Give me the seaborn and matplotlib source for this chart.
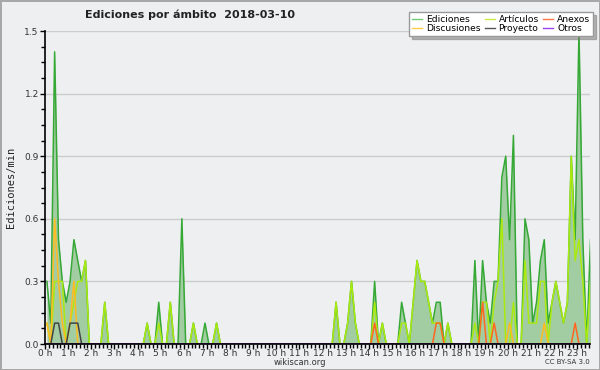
import numpy as np
import pandas as pd
import matplotlib
matplotlib.use("Agg")
import matplotlib.pyplot as plt
from matplotlib.lines import Line2D
from matplotlib.ticker import MultipleLocator, FormatStrFormatter
import seaborn as sns

# ediciones por minuto, un valor cada 10 minutos (00:05 ... 23:35)
ediciones = [
    0.3, 0.1, 1.4, 0.5, 0.3, 0.2, 0.3, 0.5, 0.4, 0.3, 0.4, 0.0,
    0.0, 0.0, 0.0, 0.2, 0.0, 0.0, 0.0, 0.0, 0.0, 0.0, 0.0, 0.0,
    0.0, 0.0, 0.1, 0.0, 0.0, 0.2, 0.0, 0.0, 0.2, 0.0, 0.0, 0.6,
    0.0, 0.0, 0.1, 0.0, 0.0, 0.1, 0.0, 0.0, 0.1, 0.0, 0.0, 0.0,
    0.0, 0.0, 0.0, 0.0, 0.0, 0.0, 0.0, 0.0, 0.0, 0.0, 0.0, 0.0,
    0.0, 0.0, 0.0, 0.0, 0.0, 0.0, 0.0, 0.0, 0.0, 0.0, 0.0, 0.0,
    0.0, 0.0, 0.0, 0.2, 0.0, 0.0, 0.1, 0.3, 0.1, 0.0, 0.0, 0.0,
    0.0, 0.3, 0.0, 0.1, 0.0, 0.0, 0.0, 0.0, 0.2, 0.1, 0.0, 0.2,
    0.4, 0.3, 0.3, 0.2, 0.1, 0.2, 0.2, 0.0, 0.1, 0.0, 0.0, 0.0,
    0.0, 0.0, 0.0, 0.4, 0.0, 0.4, 0.2, 0.1, 0.3, 0.3, 0.8, 0.9,
    0.5, 1.0, 0.0, 0.0, 0.6, 0.5, 0.1, 0.2, 0.4, 0.5, 0.1, 0.2,
    0.3, 0.2, 0.1, 0.2, 0.9, 0.5, 1.5, 0.5, 0.0, 0.5,
]
articulos = [
    0.1, 0.0, 0.3, 0.3, 0.3, 0.0, 0.1, 0.2, 0.3, 0.3, 0.4, 0.0,
    0.0, 0.0, 0.0, 0.2, 0.0, 0.0, 0.0, 0.0, 0.0, 0.0, 0.0, 0.0,
    0.0, 0.0, 0.1, 0.0, 0.0, 0.1, 0.0, 0.0, 0.2, 0.0, 0.0, 0.0,
    0.0, 0.0, 0.1, 0.0, 0.0, 0.0, 0.0, 0.0, 0.1, 0.0, 0.0, 0.0,
    0.0, 0.0, 0.0, 0.0, 0.0, 0.0, 0.0, 0.0, 0.0, 0.0, 0.0, 0.0,
    0.0, 0.0, 0.0, 0.0, 0.0, 0.0, 0.0, 0.0, 0.0, 0.0, 0.0, 0.0,
    0.0, 0.0, 0.0, 0.2, 0.0, 0.0, 0.1, 0.3, 0.1, 0.0, 0.0, 0.0,
    0.0, 0.2, 0.0, 0.1, 0.0, 0.0, 0.0, 0.0, 0.1, 0.1, 0.0, 0.2,
    0.4, 0.3, 0.3, 0.2, 0.1, 0.1, 0.1, 0.0, 0.1, 0.0, 0.0, 0.0,
    0.0, 0.0, 0.0, 0.1, 0.0, 0.2, 0.2, 0.0, 0.2, 0.3, 0.6, 0.0,
    0.0, 0.2, 0.0, 0.0, 0.4, 0.1, 0.1, 0.1, 0.3, 0.3, 0.0, 0.2,
    0.3, 0.2, 0.1, 0.2, 0.9, 0.4, 0.5, 0.3, 0.0, 0.3,
]
discusiones_pts = {0: 0.1, 2: 0.6, 3: 0.3, 4: 0.1, 6: 0.1, 7: 0.3, 120: 0.1, 129: 0.1}
anexos_pts = {85: 0.1, 101: 0.1, 102: 0.1, 113: 0.2, 116: 0.1, 137: 0.1}
proyecto_pts = {2: 0.1, 3: 0.1, 6: 0.1, 7: 0.1, 8: 0.1}

n = len(ediciones)
horas = (np.arange(n) + 0.5) / 6.0


def serie(pts):
    vals = np.zeros(n)
    for k, v in pts.items():
        vals[k] = v
    return vals


discusiones = serie(discusiones_pts)
anexos = serie(anexos_pts)
proyecto = serie(proyecto_pts)
otros = np.zeros(n)

nombres = ["Ediciones", "Artículos", "Discusiones", "Anexos", "Proyecto", "Otros"]
colores_linea = {
    "Ediciones": "#35a835",
    "Artículos": "#aaea10",
    "Discusiones": "#ffbb22",
    "Anexos": "#ff6622",
    "Proyecto": "#444444",
    "Otros": "#9933ee",
}

df = pd.DataFrame({
    "hora": np.tile(horas, len(nombres)),
    "valor": np.concatenate([ediciones, articulos, discusiones, anexos, proyecto, otros]),
    "ambito": np.repeat(nombres, n),
})

fondo = "#eeeff1"
fig = plt.figure(figsize=(6, 3.7), dpi=100, facecolor=fondo,
                 edgecolor="#a8a8a8", linewidth=2)
ax = fig.add_axes([45 / 600, 26 / 370, 545 / 600, 313 / 370])
ax.set_facecolor(fondo)

ax.fill_between(horas, ediciones, 0, color="#a2cca2", linewidth=0, zorder=1)
sns.lineplot(data=df, x="hora", y="valor", hue="ambito", hue_order=nombres,
             palette=colores_linea, linewidth=1.1, legend=False, ax=ax, zorder=2)

ax.set_xlim(0, 23.56)
ax.set_ylim(0, 1.5)

ax.xaxis.set_minor_locator(MultipleLocator(1 / 6))
ax.set_xticks(range(24))
ax.set_xticklabels([f"{h} h" for h in range(24)])
ax.yaxis.set_major_locator(MultipleLocator(0.3))
ax.yaxis.set_minor_locator(MultipleLocator(0.075))
ax.yaxis.set_major_formatter(FormatStrFormatter("%.1f"))

ax.tick_params(axis="both", which="major", length=3.5, width=1, color="black",
               labelsize=6.5, labelcolor="#333333")
ax.tick_params(axis="x", which="major", pad=0)
ax.tick_params(axis="y", which="major", pad=1)
ax.tick_params(axis="both", which="minor", length=3, width=1, color="black")

ax.grid(axis="y", which="major", color="#cccccc", linewidth=1)
ax.grid(axis="x", visible=False)
ax.set_axisbelow(True)

for lado in ["top", "right"]:
    ax.spines[lado].set_visible(False)
for lado in ["left", "bottom"]:
    ax.spines[lado].set_color("black")
    ax.spines[lado].set_linewidth(1.2)
    ax.spines[lado].set_zorder(5)

ax.set_xlabel("")
ax.set_ylabel("Ediciones/min", family="DejaVu Sans Mono", fontsize=7.5,
              color="#222222", labelpad=6)

fig.text(85 / 600, 1 - 15 / 370, "Ediciones por ámbito  2018-03-10",
         fontsize=8, fontweight="bold", color="#222222", ha="left", va="center")
fig.text(300 / 600, 1 - 362.5 / 370, "wikiscan.org", fontsize=6,
         color="#333333", ha="center", va="center")
fig.text(590 / 600, 1 - 362.5 / 370, "CC BY-SA 3.0", fontsize=5,
         color="#333333", ha="right", va="center")

colores_leyenda = {
    "Ediciones": "#77cc77",
    "Discusiones": "#ffcc44",
    "Artículos": "#ccee44",
    "Proyecto": "#555555",
    "Anexos": "#ff7744",
    "Otros": "#9944ee",
}
orden = ["Ediciones", "Discusiones", "Artículos", "Proyecto", "Anexos", "Otros"]
manejadores = [Line2D([0], [0], color=colores_leyenda[k], linewidth=1) for k in orden]
leg = fig.legend(manejadores, orden, ncol=3, loc="upper right",
                 bbox_to_anchor=(593 / 600, 1 - 12 / 370), fontsize=6.6,
                 frameon=True, fancybox=False, shadow={"color": "#777777"},
                 edgecolor="#999999", facecolor="white", framealpha=1,
                 handlelength=1.1, handletextpad=0.4, columnspacing=0.5,
                 labelspacing=0.05, borderpad=0.3, borderaxespad=0)
leg.get_frame().set_linewidth(1)

fig.savefig("out.png", dpi=100)
